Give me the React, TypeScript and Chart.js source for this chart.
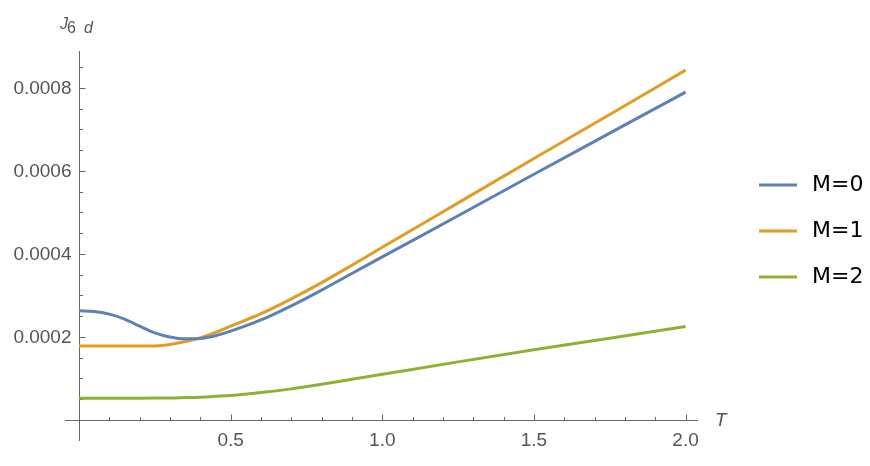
import React, { useEffect, useRef } from "react";
import { Chart, registerables } from "chart.js";

Chart.register(...registerables);

// ---- data ----
const T = [0, 0.05, 0.1, 0.15, 0.2, 0.25, 0.3, 0.35, 0.4, 0.45, 0.5, 0.6, 0.7, 0.8, 0.9, 1.0, 1.25, 1.5, 1.75, 2.0];
const M0 = [0.000263, 0.0002615, 0.000255, 0.000243, 0.000226, 0.00021, 0.0002, 0.0001955, 0.0001965, 0.000203, 0.000214, 0.000241, 0.000275, 0.000313, 0.000353, 0.000393, 0.000492, 0.000592, 0.000691, 0.00079];
const M1 = [0.000178, 0.000178, 0.000178, 0.000178, 0.000178, 0.0001785, 0.000182, 0.000189, 0.000198, 0.000211, 0.000226, 0.000256, 0.000292, 0.000331, 0.000373, 0.000416, 0.000523, 0.00063, 0.000736, 0.000843];
const M2 = [0.0000523, 0.0000523, 0.0000523, 0.0000524, 0.0000525, 0.0000527, 0.000053, 0.000054, 0.000055, 0.000057, 0.000059, 0.000066, 0.000075, 0.000086, 0.000098, 0.00011, 0.00014, 0.000169, 0.000197, 0.000225];
const SERIES_LABELS = ["M=0", "M=1", "M=2"];
const X_TICKS = [0.5, 1.0, 1.5, 2.0];
const Y_TICKS = [0.0002, 0.0004, 0.0006, 0.0008];
const X_MINOR = [0.1, 0.2, 0.3, 0.4, 0.6, 0.7, 0.8, 0.9, 1.1, 1.2, 1.3, 1.4, 1.6, 1.7, 1.8, 1.9];
const Y_MINOR = [0.00005, 0.0001, 0.00015, 0.00025, 0.0003, 0.00035, 0.00045, 0.0005, 0.00055, 0.00065, 0.0007, 0.00075, 0.00085];

const COLORS = ["#5E81B5", "#E19C24", "#8FB032"];
const AXIS_COLOR = "#666666";
const LABEL_COLOR = "#555555";
const X_MIN = -0.0462;
const X_MAX = 2.041;
const Y_MIN = -0.0000506;
const Y_MAX = 0.000889;

const axesPlugin = {
  id: "mmaAxes",
  beforeDatasetsDraw(chart: any) {
    const { ctx, chartArea, scales } = chart;
    const { left, right, top, bottom } = chartArea;
    const xs = scales.x;
    const ys = scales.y;
    const x0 = Math.round(xs.getPixelForValue(0)) + 0.5;
    const y0 = Math.round(ys.getPixelForValue(0)) + 0.5;
    ctx.save();
    ctx.strokeStyle = AXIS_COLOR;
    ctx.lineWidth = 1;
    ctx.beginPath();
    ctx.moveTo(left, y0);
    ctx.lineTo(right, y0);
    ctx.moveTo(x0, top);
    ctx.lineTo(x0, bottom);
    X_TICKS.forEach((v) => {
      const p = Math.round(xs.getPixelForValue(v)) + 0.5;
      ctx.moveTo(p, y0);
      ctx.lineTo(p, y0 - 6);
    });
    X_MINOR.forEach((v) => {
      const p = Math.round(xs.getPixelForValue(v)) + 0.5;
      ctx.moveTo(p, y0);
      ctx.lineTo(p, y0 - 3.5);
    });
    Y_TICKS.forEach((v) => {
      const p = Math.round(ys.getPixelForValue(v)) + 0.5;
      ctx.moveTo(x0, p);
      ctx.lineTo(x0 + 6, p);
    });
    Y_MINOR.forEach((v) => {
      const p = Math.round(ys.getPixelForValue(v)) + 0.5;
      ctx.moveTo(x0, p);
      ctx.lineTo(x0 + 3.5, p);
    });
    ctx.stroke();

    // tick labels
    ctx.fillStyle = LABEL_COLOR;
    ctx.font = "19px 'Liberation Sans'";
    ctx.textBaseline = "middle";
    ctx.textAlign = "right";
    Y_TICKS.forEach((v) => {
      ctx.fillText(v.toFixed(4), x0 - 8, ys.getPixelForValue(v) + 1);
    });
    ctx.textAlign = "center";
    X_TICKS.forEach((v) => {
      ctx.fillText(v.toFixed(1), xs.getPixelForValue(v), y0 + 20);
    });
    ctx.restore();
  },
  afterDraw(chart: any) {
    const { ctx, scales } = chart;
    const xs = scales.x;
    const ys = scales.y;
    const x0 = xs.getPixelForValue(0);
    const y0 = ys.getPixelForValue(0);
    ctx.save();
    // y-axis title J_{6 d}
    ctx.fillStyle = LABEL_COLOR;
    ctx.textBaseline = "alphabetic";
    ctx.textAlign = "left";
    ctx.font = "italic 16px 'Liberation Sans'";
    ctx.fillText("J", x0 - 19, 29);
    ctx.font = "16px 'Liberation Sans'";
    ctx.fillText("6", x0 - 12, 33);
    ctx.font = "italic 16px 'Liberation Sans'";
    ctx.fillText("d", x0 + 5, 33);
    // x-axis title T
    ctx.font = "italic 19px 'Liberation Sans'";
    ctx.textBaseline = "middle";
    ctx.fillText("T", chart.chartArea.right + 17, y0 + 1);
    // legend
    ctx.font = "22px 'DejaVu Sans'";
    ctx.fillStyle = "#000000";
    SERIES_LABELS.forEach((lab, i) => {
      const cy = 185 + i * 46;
      ctx.strokeStyle = COLORS[i];
      ctx.lineWidth = 3;
      ctx.beginPath();
      ctx.moveTo(759, cy);
      ctx.lineTo(797, cy);
      ctx.stroke();
      ctx.fillText(lab, 812, cy);
    });
    ctx.restore();
  },
};

export default function App() {
  const ref = useRef<HTMLCanvasElement | null>(null);
  useEffect(() => {
    if (!ref.current) return;
    const series = [M0, M1, M2];
    const chart = new Chart(ref.current, {
      type: "line",
      data: {
        datasets: series.map((s, i) => ({
          label: SERIES_LABELS[i],
          data: T.map((t, j) => ({ x: t, y: s[j] })),
          borderColor: COLORS[i],
          backgroundColor: COLORS[i],
          borderWidth: 3,
          pointRadius: 0,
          fill: false,
          cubicInterpolationMode: "monotone" as const,
        })),
      },
      options: {
        animation: false,
        responsive: false,
        maintainAspectRatio: false,
        layout: { padding: { left: 65, top: 51, right: 172, bottom: 25 } },
        plugins: { legend: { display: false }, tooltip: { enabled: false } },
        scales: {
          x: {
            type: "linear",
            min: X_MIN,
            max: X_MAX,
            position: { y: 0 } as any,
            grid: { display: false, drawTicks: false },
            border: { display: false },
            ticks: { display: false },
          },
          y: {
            type: "linear",
            min: Y_MIN,
            max: Y_MAX,
            position: { x: 0 } as any,
            grid: { display: false, drawTicks: false },
            border: { display: false },
            ticks: { display: false },
          },
        },
      },
      plugins: [axesPlugin],
    });
    return () => chart.destroy();
  }, []);
  return (
    <div style={{ position: "fixed", left: 0, top: 0, width: 870, height: 466, background: "#fff" }}>
      <canvas ref={ref} width={870} height={466} style={{ display: "block" }} />
    </div>
  );
}
